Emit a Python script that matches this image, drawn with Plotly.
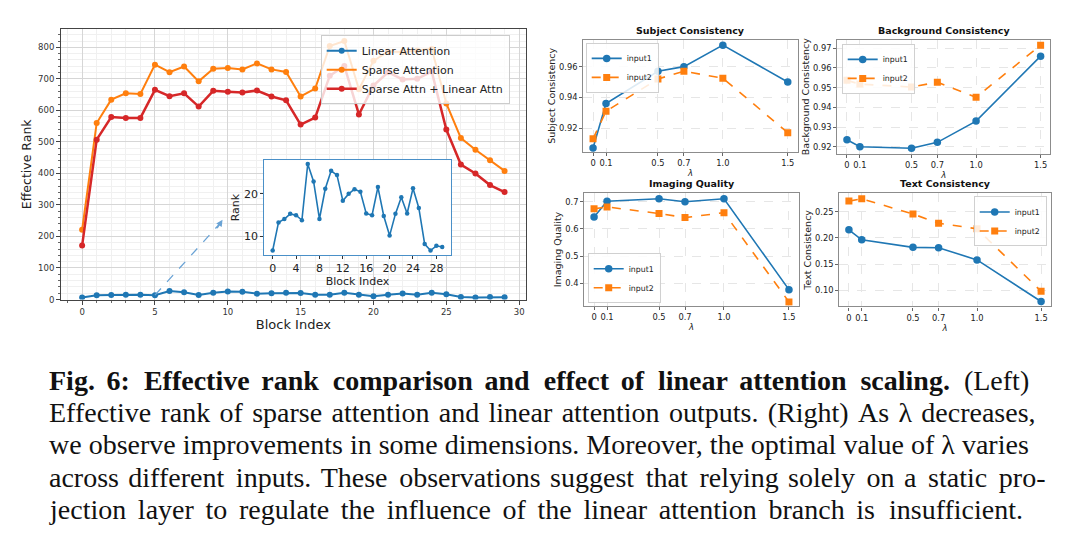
import plotly.graph_objects as go

# ---------------- data ----------------
blocks = list(range(30))
linear_attn = [6.7, 13.3, 14.1, 15.3, 15.0, 13.8, 27.0, 22.9, 14.1, 21.2, 25.4, 24.4, 18.4, 20.0, 21.1,
               20.5, 15.4, 15.0, 21.6, 14.8, 10.2, 15.3, 19.2, 15.4, 21.3, 16.7, 8.2, 6.7, 7.8, 7.5]
sparse_attn = [221, 560, 634, 654, 652, 745, 721, 739, 692, 732, 734, 730, 749, 730, 722,
               644, 669, 804, 820, 667, 757, 787, 785, 790, 795, 622, 512, 475, 442, 408]
sparse_linear = [171, 507, 579, 576, 576, 665, 645, 654, 612, 662, 659, 657, 663, 644, 632,
                 555, 577, 710, 741, 587, 679, 721, 698, 700, 723, 539, 428, 400, 363, 341]

lam = [0, 0.1, 0.5, 0.7, 1.0, 1.5]
lam_labels = ["0", "0.1", "0.5", "0.7", "1.0", "1.5"]
subject_in1 = [0.907, 0.936, 0.957, 0.960, 0.974, 0.950]
subject_in2 = [0.913, 0.931, 0.952, 0.957, 0.9525, 0.917]
bg_in1 = [0.9235, 0.920, 0.9192, 0.9222, 0.933, 0.966]
bg_in2 = [0.9537, 0.9518, 0.9503, 0.9528, 0.9451, 0.9716]
iq_in1 = [0.644, 0.702, 0.711, 0.700, 0.711, 0.377]
iq_in2 = [0.674, 0.681, 0.657, 0.642, 0.660, 0.332]
tc_in1 = [0.2153, 0.1964, 0.1819, 0.1813, 0.158, 0.0786]
tc_in2 = [0.2702, 0.2746, 0.2456, 0.228, 0.2173, 0.0981]

caption_lines = [
    "<b>Fig. 6: Effective rank comparison and effect of linear attention scaling.</b> (Left)",
    "Effective rank of sparse attention and linear attention outputs. (Right) As λ decreases,",
    "we observe improvements in some dimensions. Moreover, the optimal value of λ varies",
    "across different inputs. These observations suggest that relying solely on a static pro-",
    "jection layer to regulate the influence of the linear attention branch is insufficient.",
]
# extra hair spaces per line, spread across word gaps (approximate LaTeX justification)
caption_extra = [28, 12, 0, 19, 25]

BLUE = "#1f77b4"
ORANGE = "#ff7f0e"
RED = "#d62728"
W, H = 1072, 543
FONT = "DejaVu Sans"

INSET_XR = [-1.43, 30.45]
INSET_YR = [5.66, 27.9]


def px(x):
    return x / W


def py(y):
    return 1 - y / H


def justify(text, extra):
    parts = text.split(" ")
    gaps = len(parts) - 1
    if extra <= 0 or gaps <= 0:
        return text
    out = parts[0]
    for i, p in enumerate(parts[1:]):
        n = (extra * (i + 1)) // gaps - (extra * i) // gaps
        out += " " + "\u200a" * n + p
    return out


fig = go.Figure()

# ---------------- main chart ----------------
fig.add_trace(go.Scatter(x=blocks, y=linear_attn, mode="lines+markers", name="Linear Attention",
                         line=dict(color=BLUE, width=2), marker=dict(size=6, color=BLUE),
                         xaxis="x", yaxis="y", legend="legend"))
fig.add_trace(go.Scatter(x=blocks, y=sparse_attn, mode="lines+markers", name="Sparse Attention",
                         line=dict(color=ORANGE, width=2), marker=dict(size=6, color=ORANGE),
                         xaxis="x", yaxis="y", legend="legend"))
fig.add_trace(go.Scatter(x=blocks, y=sparse_linear, mode="lines+markers", name="Sparse Attn + Linear Attn",
                         line=dict(color=RED, width=2.5), marker=dict(size=6, color=RED),
                         xaxis="x", yaxis="y", legend="legend"))

# inset: white background covering main grid, then the series
fig.add_trace(go.Scatter(x=[INSET_XR[0], INSET_XR[1], INSET_XR[1], INSET_XR[0], INSET_XR[0]],
                         y=[INSET_YR[0], INSET_YR[0], INSET_YR[1], INSET_YR[1], INSET_YR[0]],
                         mode="lines", fill="toself", fillcolor="white", line=dict(width=0, color="white"),
                         hoverinfo="skip", showlegend=False, xaxis="x2", yaxis="y2"))
fig.add_trace(go.Scatter(x=blocks, y=linear_attn, mode="lines+markers", showlegend=False,
                         line=dict(color=BLUE, width=1.6), marker=dict(size=4.5, color=BLUE),
                         xaxis="x2", yaxis="y2"))

# small panels
panels = [
    ("x3", "y3", "legend2", subject_in1, subject_in2),
    ("x4", "y4", "legend3", bg_in1, bg_in2),
    ("x5", "y5", "legend4", iq_in1, iq_in2),
    ("x6", "y6", "legend5", tc_in1, tc_in2),
]
for xa, ya, lg, s1, s2 in panels:
    fig.add_trace(go.Scatter(x=lam, y=s1, mode="lines+markers", name="input1",
                             line=dict(color=BLUE, width=1.6), marker=dict(size=7.5, color=BLUE, symbol="circle"),
                             xaxis=xa, yaxis=ya, legend=lg))
    fig.add_trace(go.Scatter(x=lam, y=s2, mode="lines+markers", name="input2",
                             line=dict(color=ORANGE, width=1.6, dash="dash"),
                             marker=dict(size=7, color=ORANGE, symbol="square"),
                             xaxis=xa, yaxis=ya, legend=lg))

tickfont_main = dict(family=FONT, size=8.5, color="#333")

layout = dict(
    width=W, height=H, margin=dict(l=0, r=0, t=0, b=0),
    paper_bgcolor="white", plot_bgcolor="white",
    font=dict(family=FONT, color="#222"),
    xaxis=dict(domain=[px(61), px(525.7)], range=[-1.45, 30.45], dtick=5, tick0=0,
               showline=True, mirror=True, linecolor="#444", linewidth=1,
               ticks="outside", ticklen=4, tickcolor="#444", tickfont=tickfont_main,
               showgrid=True, gridcolor="#d6d6d6", gridwidth=1, zeroline=False,
               minor=dict(dtick=1, showgrid=True, gridcolor="#f0f0f0", ticks="outside", ticklen=2, tickcolor="#666"),
               title=dict(text="Block Index", font=dict(size=13, family=FONT, color="#222"), standoff=4),
               anchor="y"),
    yaxis=dict(domain=[py(302.3), py(29.3)], range=[0, 858], dtick=100, tick0=0,
               showline=True, mirror=True, linecolor="#444", linewidth=1,
               ticks="outside", ticklen=4, tickcolor="#444", tickfont=tickfont_main,
               showgrid=True, gridcolor="#d6d6d6", gridwidth=1, zeroline=False,
               minor=dict(dtick=20, showgrid=True, gridcolor="#f0f0f0", ticks="outside", ticklen=2, tickcolor="#666"),
               title=dict(text="Effective Rank", font=dict(size=12.5, family=FONT, color="#222"), standoff=3),
               anchor="x"),
    xaxis2=dict(domain=[px(264.3), px(450.7)], range=INSET_XR, tickvals=[0, 4, 8, 12, 16, 20, 24, 28],
                showline=True, mirror=True, linecolor="#4a90c8", linewidth=1.3,
                ticks="outside", ticklen=3, tickcolor="#333", tickfont=dict(family=FONT, size=11, color="#222"),
                showgrid=False, zeroline=False,
                title=dict(text="Block Index", font=dict(size=11, family=FONT, color="#222"), standoff=2),
                anchor="y2"),
    yaxis2=dict(domain=[py(257.3), py(161.7)], range=INSET_YR, tickvals=[10, 20],
                showline=True, mirror=True, linecolor="#4a90c8", linewidth=1.3,
                ticks="outside", ticklen=3, tickcolor="#333", tickfont=dict(family=FONT, size=11, color="#222"),
                showgrid=False, zeroline=False,
                title=dict(text="Rank", font=dict(size=11, family=FONT, color="#222"), standoff=2),
                anchor="x2"),
    legend=dict(x=px(320.7), y=py(35.7), xanchor="left", yanchor="top",
                bgcolor="rgba(255,255,255,0.8)", bordercolor="#cccccc", borderwidth=1,
                font=dict(family=FONT, size=11, color="#222"), itemwidth=30, tracegroupgap=0),
)

small_specs = [
    (3, (583.3, 797.5), (40, 153.3), [0.9045, 0.9776], [0.92, 0.94, 0.96], "Subject Consistency"),
    (4, (837.3, 1050.3), (40, 155), [0.9165, 0.9744], [0.92, 0.93, 0.94, 0.95, 0.96, 0.97], "Background Consistency"),
    (5, (584.3, 798.7), (195, 308.7), [0.3174, 0.7316], [0.4, 0.5, 0.6, 0.7], "Imaging Quality"),
    (6, (839.3, 1050.7), (195, 309.3), [0.0691, 0.2853], [0.10, 0.15, 0.20, 0.25], "Text Consistency"),
]
small_tick = dict(family=FONT, size=8.3, color="#222")
annotations = []
for n, (xl, xr), (yt, yb), yr, yt_vals, label in small_specs:
    fmt = ".1f" if n == 5 else ".2f"
    layout[f"xaxis{n}"] = dict(domain=[px(xl), px(xr)], range=[-0.075, 1.575], tickvals=lam, ticktext=lam_labels,
                               showline=True, mirror=True, linecolor="#8c8c8c", linewidth=1.2,
                               ticks="outside", ticklen=3, tickcolor="#666", tickfont=small_tick,
                               showgrid=True, gridcolor="#e6e6e6", griddash="dash", gridwidth=0.8, zeroline=False,
                               title=dict(text="<i>λ</i>", font=dict(size=8.5, family=FONT, color="#222"), standoff=1),
                               anchor=f"y{n}")
    ytext = [(f"{v:{fmt}}") for v in yt_vals]
    layout[f"yaxis{n}"] = dict(domain=[py(yb), py(yt)], range=yr, tickvals=yt_vals, ticktext=ytext,
                               showline=True, mirror=True, linecolor="#8c8c8c", linewidth=1.2,
                               ticks="outside", ticklen=3, tickcolor="#666", tickfont=small_tick,
                               showgrid=True, gridcolor="#e6e6e6", griddash="dash", gridwidth=0.8, zeroline=False,
                               title=dict(text=label, font=dict(size=9.5, family=FONT, color="#222"), standoff=1),
                               anchor=f"x{n}")
    annotations.append(dict(text=f"<b>{label}</b>", xref="paper", yref="paper",
                            x=px((xl + xr) / 2), y=py(yt - 9.5), xanchor="center", yanchor="middle",
                            showarrow=False, font=dict(family=FONT, size=9.5, color="#111")))

small_legend = dict(bgcolor="rgba(255,255,255,0.85)", bordercolor="#d0d0d0", borderwidth=1,
                    font=dict(family=FONT, size=7.8, color="#222"), itemwidth=30, tracegroupgap=0)
layout["legend2"] = dict(x=px(585.7), y=py(43.3), xanchor="left", yanchor="top", **small_legend)
layout["legend3"] = dict(x=px(841.7), y=py(44.3), xanchor="left", yanchor="top", **small_legend)
layout["legend4"] = dict(x=px(587.7), y=py(306), xanchor="left", yanchor="bottom", **small_legend)
layout["legend5"] = dict(x=px(1046.7), y=py(198.3), xanchor="right", yanchor="top", **small_legend)

# arrow from main chart toward inset
annotations.append(dict(x=9.64, y=253, ax=9.2, ay=222, xref="x", yref="y", axref="x", ayref="y",
                        text="", showarrow=True, arrowhead=2, arrowsize=1, arrowwidth=1.3,
                        arrowcolor="#6aa3d5"))

# caption
cap_y = [384, 416.5, 449, 481.5, 514]
for t, ex, yy in zip(caption_lines, caption_extra, cap_y):
    annotations.append(dict(text=justify(t, ex), xref="paper", yref="paper", x=px(47), y=py(yy),
                            xanchor="left", yanchor="middle", showarrow=False,
                            font=dict(family="Liberation Serif", size=28, color="#111")))

layout["annotations"] = annotations
layout["shapes"] = [
    dict(type="line", xref="x", yref="y", x0=blocks[5], y0=linear_attn[5], x1=9.5, y1=243,
         line=dict(color="#6aa3d5", width=1.3, dash="dash")),
]

fig.update_layout(**layout)
fig.write_html("out.html")
